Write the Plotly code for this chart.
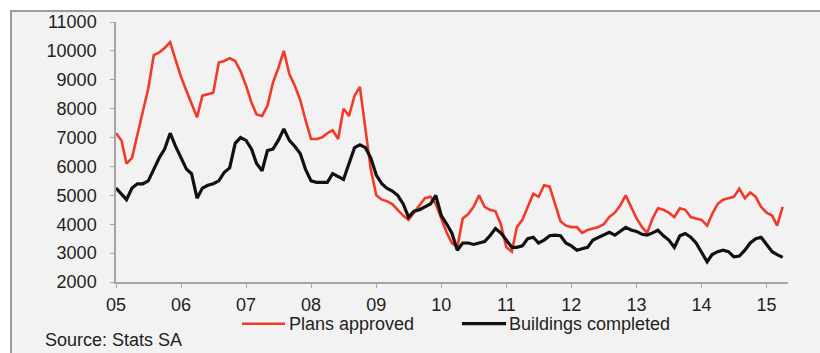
import pandas as pd
import plotly.graph_objects as go

# Monthly data, Jan 2005 - Apr 2015
months = pd.date_range("2005-01-01", "2015-04-01", freq="MS")

plans_approved = [
    # 2005
    7150, 6900, 6100, 6300, 7100, 7900, 8700, 9850, 9950, 10100, 10300, 9700,
    # 2006
    9100, 8600, 8200, 7700, 8450, 8500, 8550, 9600, 9650, 9750, 9650, 9300,
    # 2007
    8800, 8200, 7800, 7750, 8100, 8900, 9400, 10000, 9200, 8800, 8300, 7600,
    # 2008
    6950, 6950, 7000, 7150, 7250, 6950, 8000, 7750, 8450, 8750, 7200, 5900,
    # 2009
    5000, 4850, 4800, 4700, 4500, 4300, 4150, 4400, 4650, 4900, 4950, 4700,
    # 2010
    4200, 3700, 3350, 3200, 4200, 4350, 4600, 5000, 4600, 4500, 4450, 4000,
    # 2011
    3200, 3050, 3900, 4150, 4600, 5050, 4950, 5350, 5300, 4700, 4100, 3950,
    # 2012
    3900, 3900, 3700, 3800, 3850, 3900, 4000, 4250, 4400, 4650, 5000, 4600,
    # 2013
    4200, 3900, 3700, 4200, 4550, 4500, 4400, 4250, 4550, 4500, 4250, 4200,
    # 2014
    4150, 3950, 4350, 4700, 4850, 4900, 4950, 5230, 4900, 5100, 4950, 4600,
    # 2015
    4400, 4300, 3950, 4600,
]

buildings_completed = [
    # 2005
    5250, 5050, 4850, 5250, 5400, 5400, 5500, 5900, 6300, 6600, 7150, 6700,
    # 2006
    6300, 5900, 5750, 4900, 5250, 5350, 5400, 5500, 5800, 5950, 6800, 7000,
    # 2007
    6900, 6600, 6100, 5850, 6550, 6600, 6900, 7300, 6900, 6700, 6450, 5900,
    # 2008
    5500, 5450, 5450, 5450, 5750, 5650, 5550, 6100, 6650, 6750, 6650, 6300,
    # 2009
    5700, 5400, 5250, 5150, 5000, 4700, 4250, 4450, 4500, 4600, 4700, 5000,
    # 2010
    4300, 4000, 3700, 3100, 3350, 3350, 3300, 3350, 3400, 3600, 3850, 3700,
    # 2011
    3450, 3200, 3200, 3250, 3500, 3550, 3350, 3450, 3600, 3620, 3600, 3350,
    # 2012
    3250, 3100, 3150, 3200, 3450, 3550, 3620, 3720, 3620, 3750, 3890, 3800,
    # 2013
    3750, 3650, 3620, 3700, 3790, 3600, 3450, 3200, 3600, 3680, 3550, 3350,
    # 2014
    3000, 2700, 2950, 3050, 3100, 3050, 2870, 2900, 3100, 3350, 3500, 3550,
    # 2015
    3300, 3050, 2950, 2850,
]

series_names = ["Plans approved", "Buildings completed"]
series_colors = ["#f23a26", "#111111"]
source_text = "Source: Stats SA"

W, H = 820, 353
L, R, T, B = 116, 32, 20, 71
pw, ph = W - L - R, H - T - B


def px_x(x):
    return (x - L) / pw


def px_y(y):
    return (H - B - y) / ph


FONT = "Liberation Sans, Arial, sans-serif"
TXT = "#222222"
FS = 18

fig = go.Figure()
fig.add_trace(go.Scatter(x=months, y=plans_approved, mode="lines",
                         name=series_names[0],
                         line=dict(color=series_colors[0], width=2.6)))
fig.add_trace(go.Scatter(x=months, y=buildings_completed, mode="lines",
                         name=series_names[1],
                         line=dict(color=series_colors[1], width=3.2)))

shapes = [
    # panel background with border (top & left visible)
    dict(type="rect", xref="paper", yref="paper", layer="below",
         x0=px_x(11), x1=px_x(840), y0=px_y(370), y1=px_y(9),
         fillcolor="#f2f2f2", line=dict(color="#9c9c9c", width=2)),
    # legend samples
    dict(type="line", xref="paper", yref="paper",
         x0=px_x(242), x1=px_x(285), y0=px_y(324), y1=px_y(324),
         line=dict(color=series_colors[0], width=2.6)),
    dict(type="line", xref="paper", yref="paper",
         x0=px_x(462), x1=px_x(506), y0=px_y(324), y1=px_y(324),
         line=dict(color=series_colors[1], width=3.2)),
]

annotations = [
    dict(text=series_names[0], xref="paper", yref="paper",
         x=px_x(287), y=px_y(324), xanchor="left", yanchor="middle",
         showarrow=False, font=dict(family=FONT, size=FS, color=TXT)),
    dict(text=series_names[1], xref="paper", yref="paper",
         x=px_x(507), y=px_y(324), xanchor="left", yanchor="middle",
         showarrow=False, font=dict(family=FONT, size=FS, color=TXT)),
    dict(text=source_text, xref="paper", yref="paper",
         x=px_x(43), y=px_y(340), xanchor="left", yanchor="middle",
         showarrow=False, font=dict(family=FONT, size=FS, color=TXT)),
]

fig.update_layout(
    width=W, height=H,
    margin=dict(l=L, r=R, t=T, b=B, pad=0),
    paper_bgcolor="white",
    plot_bgcolor="rgba(0,0,0,0)",
    showlegend=False,
    shapes=shapes,
    annotations=annotations,
    font=dict(family=FONT, size=FS, color=TXT),
)

fig.update_xaxes(
    type="date",
    range=["2005-01-01", "2015-05-01"],
    dtick="M12", tick0="2005-01-01", tickformat="%y",
    showgrid=False, zeroline=False,
    showline=True, linecolor="#a6a6a6", linewidth=1.5,
    ticks="outside", ticklen=4, tickcolor="#a6a6a6",
    tickfont=dict(family=FONT, size=FS, color=TXT),
    ticklabelstandoff=2,
)
fig.update_yaxes(
    range=[2000, 11000], dtick=1000, tickformat="d",
    showgrid=False, zeroline=False,
    showline=True, linecolor="#a6a6a6", linewidth=1.5,
    ticks="outside", ticklen=4, tickcolor="#a6a6a6",
    tickfont=dict(family=FONT, size=FS, color=TXT),
    ticklabelstandoff=10,
)

fig.write_html("out.html")
